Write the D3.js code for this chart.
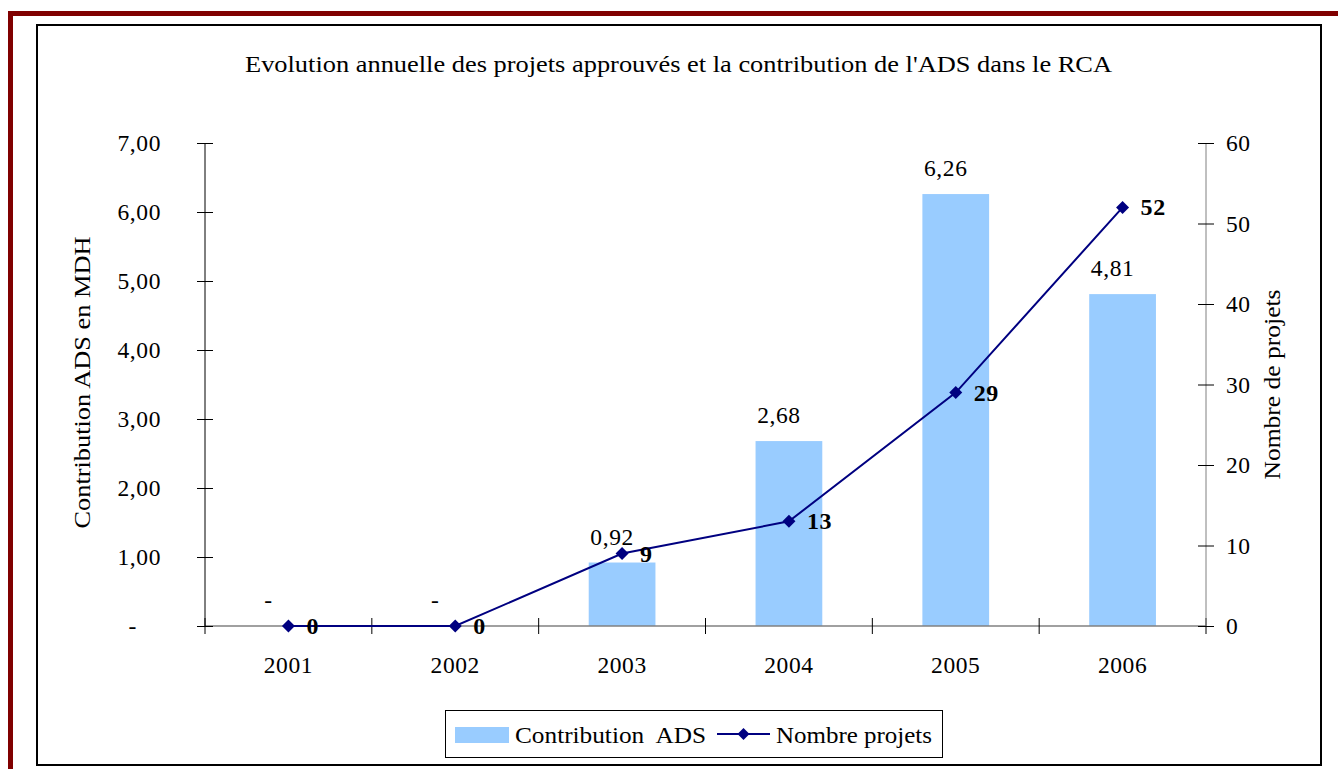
<!DOCTYPE html>
<html>
<head>
<meta charset="utf-8">
<script src="https://cdn.jsdelivr.net/npm/d3@7"></script>
<style>
  html, body { margin: 0; padding: 0; background: #fff; }
  svg { display: block; }
  text { font-family: "Liberation Serif", "Times New Roman", serif; fill: #000; }
</style>
</head>
<body>
<svg id="chart" width="1338" height="769"></svg>
<script>
const title = "Evolution annuelle des projets approuvés et la contribution de l'ADS dans le RCA";
const years = ["2001", "2002", "2003", "2004", "2005", "2006"];
const contribution = [0, 0, 0.92, 2.68, 6.26, 4.81];
const projets = [0, 0, 9, 13, 29, 52];
const leftTicks = [0, 1, 2, 3, 4, 5, 6, 7];
const rightTicks = [0, 10, 20, 30, 40, 50, 60];
const leftAxisTitle = "Contribution ADS en MDH";
const rightAxisTitle = "Nombre de projets";
const legendBar = "Contribution  ADS";
const legendLine = "Nombre projets";

const svg = d3.select("#chart");
const W = 1338, H = 769;
const FS = "23.5px", LS = "0.6px";

// outer dark red frame
svg.append("rect").attr("x", 10.5).attr("y", 13.5).attr("width", W).attr("height", H)
  .attr("fill", "none").attr("stroke", "#800000").attr("stroke-width", 5);
// inner chart border
svg.append("rect").attr("x", 37).attr("y", 25).attr("width", 1284).attr("height", 740)
  .attr("fill", "#fff").attr("stroke", "#000").attr("stroke-width", 2);

const plot = { left: 205, right: 1206, top: 143, bottom: 626 };

const x = d3.scaleBand().domain(years).range([plot.left, plot.right]).paddingInner(0).paddingOuter(0);
const yL = d3.scaleLinear().domain([0, 7]).range([plot.bottom, plot.top]);
const yR = d3.scaleLinear().domain([0, 60]).range([plot.bottom, plot.top]);

const fmtComma = v => d3.format(".2f")(v).replace(".", ",");

// title
svg.append("text").attr("x", 678.5).attr("y", 72).attr("text-anchor", "middle")
  .style("font-size", "23px").attr("textLength", 867).attr("lengthAdjust", "spacingAndGlyphs").text(title);

// bars
const barW = x.bandwidth() * 0.4;
svg.append("g").selectAll("rect").data(years).join("rect")
  .attr("x", d => x(d) + x.bandwidth() / 2 - barW / 2)
  .attr("y", (d, i) => yL(contribution[i]))
  .attr("width", barW)
  .attr("height", (d, i) => yL(0) - yL(contribution[i]))
  .attr("fill", "#99CCFF");

// x axis line
svg.append("line").attr("x1", plot.left).attr("x2", plot.right)
  .attr("y1", plot.bottom).attr("y2", plot.bottom).attr("stroke", "#808080").attr("stroke-width", 1.5);
// category separator ticks (crossing)
const sepX = years.map(d => x(d)).concat([plot.right]);
svg.append("g").selectAll("line").data(sepX).join("line")
  .attr("x1", d => d).attr("x2", d => d)
  .attr("y1", plot.bottom - 8).attr("y2", plot.bottom + 8)
  .attr("stroke", "#000").attr("stroke-width", 1);
// x labels
svg.append("g").selectAll("text").data(years).join("text")
  .attr("x", d => x(d) + x.bandwidth() / 2)
  .attr("y", 673).attr("text-anchor", "middle").style("font-size", FS).style("letter-spacing", LS).text(d => d);

// left axis
const gL = svg.append("g").attr("transform", `translate(${plot.left},0)`)
  .call(d3.axisLeft(yL).tickValues(leftTicks).tickSize(8).tickPadding(36)
    .tickFormat(v => v === 0 ? "-" : fmtComma(v)));
gL.attr("font-family", null).attr("font-size", null);
gL.select(".domain").attr("stroke", "#000").attr("d", `M0,${plot.top}V${plot.bottom}`);
gL.selectAll(".tick line").attr("x1", 8).attr("x2", -8).attr("stroke", "#000");
gL.selectAll(".tick text").style("font-size", FS).style("letter-spacing", LS).attr("fill", "#000")
  .attr("dx", v => v === 0 ? -24 : 0);

// right axis
const gR = svg.append("g").attr("transform", `translate(${plot.right},0)`)
  .call(d3.axisRight(yR).tickValues(rightTicks).tickSize(8).tickPadding(12).tickFormat(d3.format("d")));
gR.attr("font-family", null).attr("font-size", null);
gR.select(".domain").attr("stroke", "#808080").attr("d", `M0,${plot.top}V${plot.bottom}`);
gR.selectAll(".tick line").attr("x1", -8).attr("x2", 8).attr("stroke", "#000");
gR.selectAll(".tick text").style("font-size", FS).style("letter-spacing", LS).attr("fill", "#000");

// axis titles
svg.append("text").attr("transform", `translate(90,${(plot.top + plot.bottom) / 2 - 2}) rotate(-90)`)
  .attr("text-anchor", "middle").style("font-size", "24px")
  .attr("textLength", 292).attr("lengthAdjust", "spacingAndGlyphs").text(leftAxisTitle);
svg.append("text").attr("transform", `translate(1280,${(plot.top + plot.bottom) / 2}) rotate(-90)`)
  .attr("text-anchor", "middle").style("font-size", "24px")
  .attr("textLength", 190).attr("lengthAdjust", "spacingAndGlyphs").text(rightAxisTitle);

// bar labels
svg.append("g").selectAll("text").data(years).join("text")
  .attr("x", (d, i) => x(d) + x.bandwidth() / 2 + (contribution[i] === 0 ? -20 : -10))
  .attr("y", (d, i) => yL(contribution[i]) - 18)
  .attr("text-anchor", "middle").style("font-size", FS).style("letter-spacing", LS)
  .text((d, i) => contribution[i] === 0 ? "-" : fmtComma(contribution[i]));

// line
const cx = d => x(d) + x.bandwidth() / 2;
const line = d3.line().x((d, i) => cx(years[i])).y(d => yR(d));
svg.append("path").datum(projets).attr("d", line)
  .attr("fill", "none").attr("stroke", "#000080").attr("stroke-width", 2);
const diamond = (px, py, r) => `M${px},${py - r}L${px + r},${py}L${px},${py + r}L${px - r},${py}Z`;
svg.append("g").selectAll("path").data(projets).join("path")
  .attr("d", (d, i) => diamond(cx(years[i]), yR(d), 6.5))
  .attr("fill", "#000080");
// line labels
svg.append("g").selectAll("text").data(projets).join("text")
  .attr("x", (d, i) => cx(years[i]) + 18)
  .attr("y", d => yR(d) + 8)
  .style("font-size", "24px").style("font-weight", "bold").style("letter-spacing", LS)
  .text(d => d);

// legend
const lg = svg.append("g");
lg.append("rect").attr("x", 445.5).attr("y", 710.5).attr("width", 497).attr("height", 47)
  .attr("fill", "#fff").attr("stroke", "#000").attr("stroke-width", 1);
lg.append("rect").attr("x", 455).attr("y", 727).attr("width", 54).attr("height", 16).attr("fill", "#99CCFF");
lg.append("text").attr("x", 515).attr("y", 743).style("font-size", "24px").style("white-space", "pre")
  .attr("textLength", 191).attr("lengthAdjust", "spacingAndGlyphs").text(legendBar);
lg.append("line").attr("x1", 717).attr("x2", 770).attr("y1", 734).attr("y2", 734)
  .attr("stroke", "#000080").attr("stroke-width", 2);
lg.append("path").attr("d", diamond(743.5, 734, 6)).attr("fill", "#000080");
lg.append("text").attr("x", 776).attr("y", 743).style("font-size", "24px")
  .attr("textLength", 156).attr("lengthAdjust", "spacingAndGlyphs").text(legendLine);
</script>
</body>
</html>
